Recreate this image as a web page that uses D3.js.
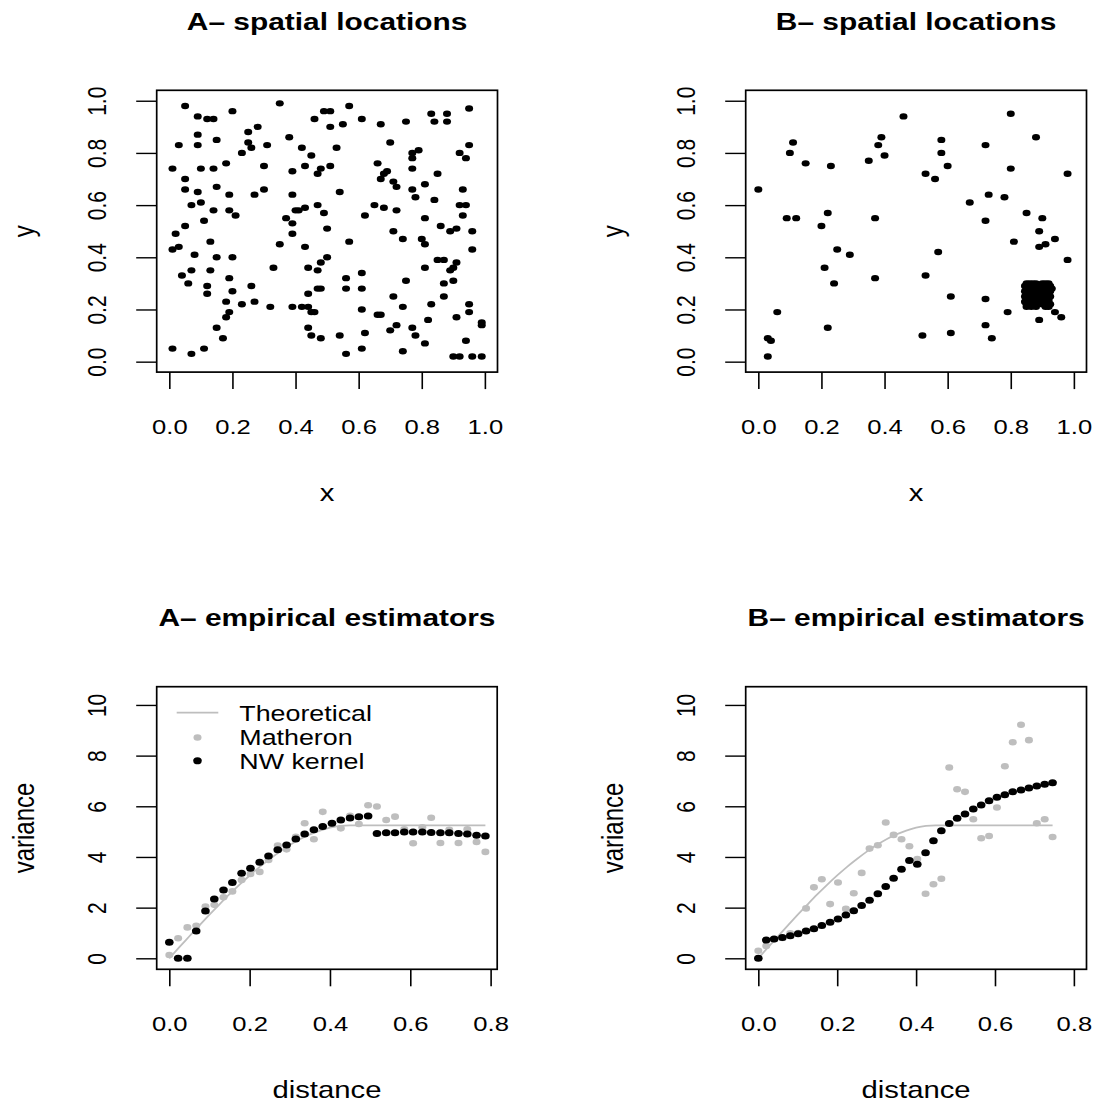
<!DOCTYPE html>
<html>
<head>
<meta charset="utf-8">
<script src="https://cdn.jsdelivr.net/npm/d3@7"></script>
<style>
body { margin: 0; background: #fff; }
text { font-family: "Liberation Sans", Arial, Helvetica, sans-serif; fill: #000; }
</style>
</head>
<body>
<svg></svg>
<script>
var w = 1103
var h = 1106
var stretch = 1.22   // the original png is a bit wider than tall, text and dots look squashed
var grey = "#bebebe"

// ---- data ----

// A- spatial locations (uniform)
var locA = [
[0.05,0.98],[0.35,0.99],[0.20,0.96],[0.09,0.94],[0.12,0.93],[0.14,0.93],[0.46,0.93],[0.49,0.96],[0.51,0.96],[0.57,0.98],
[0.95,0.97],[0.83,0.95],[0.88,0.95],[0.84,0.92],[0.88,0.92],[0.61,0.93],[0.67,0.91],[0.75,0.92],[0.55,0.91],[0.51,0.90],
[0.25,0.88],[0.28,0.90],[0.09,0.87],[0.15,0.85],[0.03,0.83],[0.09,0.83],[0.25,0.84],[0.26,0.82],[0.31,0.83],[0.38,0.86],
[0.42,0.82],[0.45,0.79],[0.53,0.82],[0.70,0.84],[0.77,0.80],[0.79,0.81],[0.77,0.78],[0.95,0.83],[0.92,0.80],[0.94,0.78],
[0.01,0.74],[0.10,0.74],[0.14,0.74],[0.18,0.76],[0.23,0.80],[0.30,0.75],[0.39,0.73],[0.43,0.75],[0.48,0.74],[0.47,0.72],
[0.51,0.75],[0.66,0.76],[0.69,0.73],[0.68,0.72],[0.67,0.70],[0.71,0.69],[0.72,0.67],[0.77,0.74],[0.85,0.72],[0.05,0.70],
[0.05,0.66],[0.09,0.65],[0.15,0.67],[0.19,0.64],[0.27,0.64],[0.30,0.66],[0.39,0.64],[0.54,0.65],[0.77,0.66],[0.81,0.68],
[0.78,0.63],[0.84,0.62],[0.93,0.66],[0.07,0.60],[0.10,0.61],[0.14,0.58],[0.19,0.58],[0.21,0.56],[0.40,0.58],[0.41,0.58],
[0.43,0.59],[0.47,0.60],[0.49,0.57],[0.62,0.56],[0.65,0.60],[0.68,0.59],[0.72,0.58],[0.92,0.60],[0.94,0.60],[0.93,0.56],
[0.11,0.54],[0.05,0.52],[0.02,0.49],[0.37,0.55],[0.39,0.53],[0.39,0.49],[0.50,0.51],[0.71,0.50],[0.74,0.47],[0.81,0.55],
[0.86,0.52],[0.89,0.50],[0.91,0.51],[0.96,0.50],[0.13,0.46],[0.01,0.43],[0.03,0.44],[0.35,0.45],[0.43,0.44],[0.57,0.46],
[0.80,0.47],[0.81,0.45],[0.96,0.43],[0.08,0.41],[0.15,0.40],[0.20,0.40],[0.33,0.36],[0.44,0.36],[0.47,0.35],[0.48,0.38],
[0.50,0.40],[0.81,0.36],[0.85,0.39],[0.87,0.39],[0.89,0.35],[0.90,0.36],[0.91,0.38],[0.04,0.33],[0.07,0.35],[0.13,0.35],
[0.06,0.30],[0.12,0.29],[0.19,0.32],[0.12,0.26],[0.20,0.27],[0.26,0.29],[0.44,0.26],[0.47,0.28],[0.48,0.28],[0.56,0.32],
[0.56,0.28],[0.61,0.34],[0.61,0.28],[0.75,0.31],[0.87,0.30],[0.90,0.31],[0.18,0.23],[0.23,0.22],[0.27,0.23],[0.32,0.21],
[0.39,0.21],[0.42,0.21],[0.44,0.21],[0.45,0.19],[0.46,0.19],[0.61,0.20],[0.66,0.18],[0.67,0.18],[0.71,0.25],[0.74,0.21],
[0.83,0.22],[0.87,0.25],[0.95,0.22],[0.95,0.19],[0.19,0.19],[0.18,0.17],[0.15,0.13],[0.17,0.09],[0.44,0.13],[0.45,0.10],
[0.48,0.09],[0.54,0.10],[0.62,0.11],[0.70,0.12],[0.72,0.14],[0.77,0.13],[0.78,0.10],[0.81,0.07],[0.82,0.16],[0.91,0.17],
[0.99,0.15],[0.99,0.14],[0.94,0.08],[0.01,0.05],[0.07,0.03],[0.11,0.05],[0.56,0.03],[0.61,0.05],[0.74,0.04],[0.90,0.02],
[0.92,0.02],[0.96,0.02],[0.99,0.02]
]

// B- spatial locations, scattered part
var locB = [
[0.46,0.94],[0.80,0.95],[0.11,0.84],[0.10,0.80],[0.15,0.76],[0.23,0.75],[0.39,0.86],[0.38,0.83],[0.40,0.79],[0.35,0.77],
[0.58,0.85],[0.58,0.80],[0.60,0.75],[0.53,0.72],[0.56,0.70],[0.72,0.83],[0.88,0.86],[0.80,0.74],[0.98,0.72],[0.00,0.66],
[0.67,0.61],[0.73,0.64],[0.78,0.63],[0.09,0.55],[0.12,0.55],[0.22,0.57],[0.20,0.52],[0.37,0.55],[0.72,0.54],[0.85,0.57],
[0.90,0.55],[0.89,0.50],[0.94,0.47],[0.81,0.46],[0.89,0.44],[0.91,0.45],[0.98,0.39],[0.25,0.43],[0.29,0.41],[0.21,0.36],
[0.24,0.30],[0.37,0.32],[0.57,0.42],[0.53,0.33],[0.61,0.25],[0.72,0.24],[0.79,0.19],[0.72,0.14],[0.74,0.09],[0.61,0.11],
[0.52,0.10],[0.22,0.13],[0.06,0.19],[0.03,0.09],[0.04,0.08],[0.03,0.02],[0.89,0.16],[0.96,0.17],[0.94,0.19]
]

// B- the dense cluster bottom right
var clusterB = [
[0.85,0.30],[0.86,0.30],[0.87,0.30],[0.88,0.30],[0.90,0.30],[0.91,0.30],[0.92,0.30],
[0.845,0.29],[0.855,0.29],[0.865,0.29],[0.875,0.29],[0.885,0.29],[0.905,0.29],[0.915,0.29],[0.925,0.29],
[0.85,0.28],[0.86,0.28],[0.87,0.28],[0.88,0.28],[0.89,0.28],[0.90,0.28],[0.91,0.28],[0.92,0.28],[0.93,0.28],
[0.845,0.27],[0.86,0.27],[0.875,0.27],[0.89,0.27],[0.90,0.27],[0.915,0.27],[0.925,0.27],
[0.85,0.26],[0.86,0.26],[0.87,0.26],[0.88,0.26],[0.89,0.26],[0.905,0.26],[0.92,0.26],
[0.845,0.25],[0.855,0.25],[0.87,0.25],[0.885,0.25],[0.90,0.25],[0.91,0.25],[0.925,0.25],
[0.85,0.24],[0.865,0.24],[0.88,0.24],[0.895,0.24],[0.91,0.24],[0.92,0.24],
[0.845,0.23],[0.86,0.23],[0.875,0.23],[0.89,0.23],[0.905,0.23],[0.92,0.23],
[0.85,0.22],[0.87,0.22],[0.88,0.22],[0.90,0.22],[0.91,0.22],[0.925,0.22],
[0.85,0.21],[0.865,0.21],[0.88,0.21],[0.91,0.21],[0.92,0.21]
]

// A- empirical estimators
var lagA = [0.000,0.022,0.045,0.067,0.090,0.112,0.135,0.157,0.180,0.202,0.225,0.247,0.270,0.292,0.315,0.337,0.360,0.382,
            0.405,0.427,0.450,0.472,0.495,0.517,0.540,0.562,0.585,0.607,0.630,0.652,0.675,0.697,0.720,0.742,0.765,0.787]
var matheronA = [0.13,0.79,1.22,1.28,2.04,2.11,2.41,2.64,3.09,3.33,3.41,3.88,4.45,4.30,4.80,5.33,4.70,5.78,
                 5.30,5.13,5.62,5.30,6.04,5.99,5.46,5.59,5.09,4.54,5.17,5.55,4.55,5.07,4.55,5.09,4.59,4.20]
var nwA = [0.63,0,0,1.08,1.87,2.34,2.70,2.99,3.36,3.55,3.79,4.04,4.28,4.47,4.71,4.91,5.07,5.20,
           5.33,5.46,5.54,5.59,5.62,4.93,4.96,4.96,4.99,4.99,4.99,4.97,4.96,4.96,4.93,4.91,4.86,4.83]

// B- empirical estimators
var lagB = [0.000,0.020,0.040,0.061,0.081,0.101,0.121,0.141,0.161,0.182,0.202,0.222,0.242,0.262,0.282,0.303,0.323,0.343,0.363,
            0.383,0.403,0.424,0.444,0.464,0.484,0.504,0.524,0.545,0.565,0.585,0.605,0.625,0.645,0.666,0.686,0.706,0.726,0.746]
var matheronB = [0.30,0.49,0.75,0.80,0.99,1.00,1.97,2.80,3.12,2.14,2.99,1.95,2.57,3.37,4.33,4.46,5.36,4.87,4.70,
                 4.42,3.92,2.55,2.92,3.14,7.53,6.67,6.57,5.49,4.74,4.83,5.95,7.58,8.53,9.22,8.61,5.33,5.49,4.79]
var nwB = [0,0.72,0.76,0.82,0.89,0.97,1.08,1.17,1.29,1.42,1.55,1.71,1.88,2.08,2.29,2.55,2.83,3.16,3.51,
           3.86,3.71,4.17,4.64,5.03,5.32,5.53,5.70,5.89,6.05,6.22,6.36,6.46,6.57,6.64,6.72,6.80,6.87,6.93]

// theoretical variogram (same curve in both panels)
var theoA_x = [0,0.025,0.05,0.075,0.1,0.125,0.15,0.175,0.2,0.225,0.25,0.275,0.3,0.325,0.35,0.375,0.4,0.425,0.45,0.787]
var theoA_y = [0,0.44,0.87,1.30,1.72,2.13,2.53,2.91,3.27,3.61,3.92,4.21,4.47,4.70,4.89,5.04,5.16,5.23,5.25,5.25]
var theoB_x = [0,0.025,0.05,0.075,0.1,0.125,0.15,0.175,0.2,0.225,0.25,0.275,0.3,0.325,0.35,0.375,0.4,0.425,0.45,0.746]
var theoB_y = [0,0.44,0.87,1.30,1.72,2.13,2.53,2.91,3.27,3.61,3.92,4.21,4.47,4.70,4.89,5.04,5.16,5.23,5.25,5.25]

var locTicks = [0, 0.2, 0.4, 0.6, 0.8, 1.0]
var distTicks = [0, 0.2, 0.4, 0.6, 0.8]
var varTicks = [0, 2, 4, 6, 8, 10]

var legendLabels = ["Theoretical", "Matheron", "NW kernel"]


var svg = d3.select("svg")
	.attr("width", w)
	.attr("height", h)
	.style("background-color", "white")


function makePanel(box, xDom, yDom, xTicks, yTicks, xFmt, yFmt, title, xlab, ylab) {

	var x = d3.scaleLinear().domain(xDom).range([box.x0, box.x1])
	var y = d3.scaleLinear().domain(yDom).range([box.y1, box.y0])
	var g = svg.append("g")

	// x axis
	var gx = g.append("g")
		.attr("transform", "translate(0," + box.y1 + ")")
		.call(d3.axisBottom(x).tickValues(xTicks).tickSize(17).tickSizeOuter(0).tickFormat(d3.format(xFmt)))
	gx.select(".domain").remove()
	gx.selectAll("line").attr("stroke", "black").attr("stroke-width", 1.6)
	gx.selectAll("text")
		.attr("y", null).attr("dy", null)
		.attr("font-size", 21)
		.attr("font-family", null)
		.attr("transform", "translate(0,61.5) scale(" + stretch + ",1)")

	// y axis
	var gy = g.append("g")
		.attr("transform", "translate(" + box.x0 + ",0)")
		.call(d3.axisLeft(y).tickValues(yTicks).tickSize(20.5).tickSizeOuter(0).tickFormat(d3.format(yFmt)))
	gy.select(".domain").remove()
	gy.selectAll("line").attr("stroke", "black").attr("stroke-width", 1.4)
	gy.selectAll("text")
		.attr("x", null).attr("dy", "0.36em")
		.attr("text-anchor", "middle")
		.attr("font-size", 21)
		.attr("font-family", null)
		.attr("transform", "translate(-59.7,0) scale(" + stretch + ",1) rotate(-90)")

	// box
	g.append("rect")
		.attr("x", box.x0).attr("y", box.y0)
		.attr("width", box.x1 - box.x0).attr("height", box.y1 - box.y0)
		.attr("fill", "none").attr("stroke", "black").attr("stroke-width", 1.7)

	var cx = (box.x0 + box.x1) / 2
	var cy = (box.y0 + box.y1) / 2

	g.append("text")
		.attr("text-anchor", "middle")
		.attr("font-size", 24.5)
		.attr("font-weight", "bold")
		.attr("transform", "translate(" + cx + "," + (box.y0 - 60.5) + ") scale(" + stretch + ",1)")
		.text(title)

	g.append("text")
		.attr("text-anchor", "middle")
		.attr("font-size", 24)
		.attr("transform", "translate(" + cx + "," + (box.y1 + 129) + ") scale(" + stretch + ",1)")
		.text(xlab)

	g.append("text")
		.attr("text-anchor", "middle")
		.attr("dy", "0.3em")
		.attr("font-size", 24)
		.attr("transform", "translate(" + (box.x0 - 131.7) + "," + cy + ") scale(" + stretch + ",1) rotate(-90)")
		.text(ylab)

	return {g: g, x: x, y: y}
}

function drawDots(p, data, rx, ry, color) {
	p.g.append("g").selectAll("ellipse")
		.data(data)
		.join("ellipse")
		.attr("cx", function(d){ return p.x(d[0]) })
		.attr("cy", function(d){ return p.y(d[1]) })
		.attr("rx", rx)
		.attr("ry", ry)
		.attr("fill", color)
}

function zipXY(xs, ys) {
	return xs.map(function(v, i){ return [v, ys[i]] })
}

function drawTheo(p, xs, ys) {
	var line = d3.line()
		.x(function(d){ return p.x(d[0]) })
		.y(function(d){ return p.y(d[1]) })
		.curve(d3.curveMonotoneX)
	p.g.append("path")
		.datum(zipXY(xs, ys))
		.attr("d", line)
		.attr("fill", "none")
		.attr("stroke", grey)
		.attr("stroke-width", 1.8)
}


var boxTL = {x0: 156.7, x1: 497.5, y0: 90.3, y1: 372.1}
var boxTR = {x0: 745.7, x1: 1086.5, y0: 90.3, y1: 372.1}
var boxBL = {x0: 156.7, x1: 497.2, y0: 686.7, y1: 969.3}
var boxBR = {x0: 745.7, x1: 1086.5, y0: 686.7, y1: 969.3}

var pA = makePanel(boxTL, [-0.04, 1.04], [-0.04, 1.04], locTicks, locTicks, ".1f", ".1f",
	"A\u2013 spatial locations", "x", "y")
drawDots(pA, locA, 4, 3.2, "black")

var pB = makePanel(boxTR, [-0.04, 1.04], [-0.04, 1.04], locTicks, locTicks, ".1f", ".1f",
	"B\u2013 spatial locations", "x", "y")
drawDots(pB, locB, 4, 3.2, "black")
drawDots(pB, clusterB, 4, 3.2, "black")

var pC = makePanel(boxBL, [-0.0314, 0.8164], [-0.434, 10.72], distTicks, varTicks, ".1f", "d",
	"A\u2013 empirical estimators", "distance", "variance")
drawTheo(pC, theoA_x, theoA_y)
drawDots(pC, zipXY(lagA, matheronA), 4, 3.3, grey)
drawDots(pC, zipXY(lagA, nwA), 4.3, 3.5, "black")

var pD = makePanel(boxBR, [-0.032, 0.832], [-0.434, 10.72], distTicks, varTicks, ".1f", "d",
	"B\u2013 empirical estimators", "distance", "variance")
drawTheo(pD, theoB_x, theoB_y)
drawDots(pD, zipXY(lagB, matheronB), 4, 3.3, grey)
drawDots(pD, zipXY(lagB, nwB), 4.3, 3.5, "black")


// legend, top left of panel A- empirical
var leg = pC.g.append("g")
var legY = [712.7, 737.5, 760.8]

leg.append("line")
	.attr("x1", 176.7).attr("x2", 218.3)
	.attr("y1", legY[0]).attr("y2", legY[0])
	.attr("stroke", grey).attr("stroke-width", 1.8)
leg.append("ellipse")
	.attr("cx", 197.5).attr("cy", legY[1]).attr("rx", 4).attr("ry", 3.3).attr("fill", grey)
leg.append("ellipse")
	.attr("cx", 197.5).attr("cy", legY[2]).attr("rx", 4.3).attr("ry", 3.5).attr("fill", "black")

leg.selectAll("text.lab")
	.data(legendLabels)
	.join("text")
	.attr("class", "lab")
	.attr("font-size", 22)
	.attr("dy", "0.36em")
	.attr("transform", function(d, i){ return "translate(239.3," + legY[i] + ") scale(" + stretch + ",1)" })
	.text(function(d){ return d })

</script>
</body>
</html>
